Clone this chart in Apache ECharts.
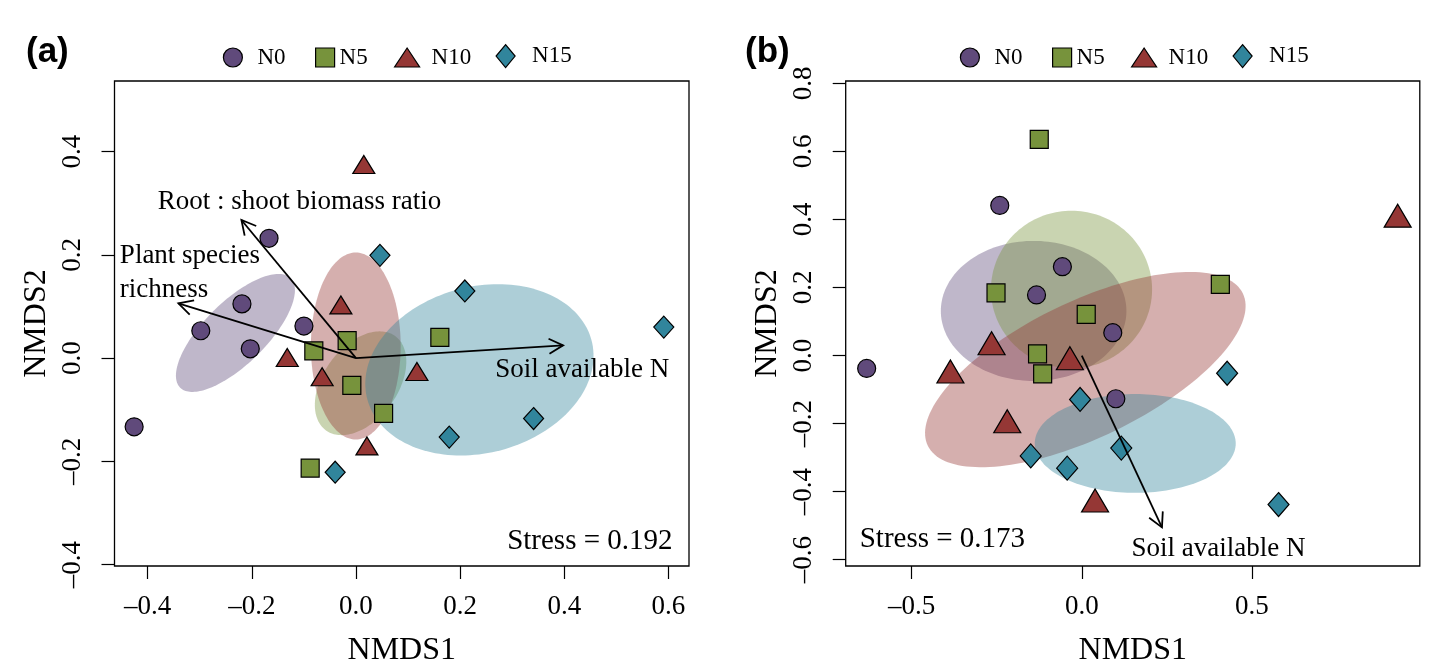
<!DOCTYPE html>
<html><head><meta charset="utf-8">
<script src="https://cdn.jsdelivr.net/npm/echarts@6/dist/echarts.min.js"></script>
<style>html,body{margin:0;padding:0;background:#fff}#c{width:1454px;height:672px}</style>
</head><body><div id="c"></div>
<script>
// ---------- data ----------
const groups = ['N0', 'N5', 'N10', 'N15'];

// Panel (a) site scores [NMDS1, NMDS2]
const ptsA_N0  = [[-0.167, 0.232], [-0.219, 0.105], [-0.298, 0.053], [-0.203, 0.018], [-0.100, 0.062], [-0.426, -0.133]];
const ptsA_N5  = [[-0.017, 0.034], [-0.081, 0.014], [0.161, 0.040], [-0.008, -0.053], [0.053, -0.107], [-0.088, -0.213]];
const ptsA_N10 = [[0.015, 0.375], [-0.029, 0.103], [-0.132, 0.001], [-0.065, -0.036], [0.117, -0.026], [0.021, -0.170]];
const ptsA_N15 = [[0.046, 0.199], [0.209, 0.130], [0.591, 0.060], [0.341, -0.117], [0.179, -0.153], [-0.040, -0.221]];

// Panel (b) site scores
const ptsB_N0  = [[-0.241, 0.441], [-0.057, 0.261], [-0.133, 0.178], [0.091, 0.067], [-0.632, -0.038], [0.100, -0.127]];
const ptsB_N5  = [[-0.125, 0.635], [-0.252, 0.184], [0.407, 0.209], [0.013, 0.121], [-0.130, 0.005], [-0.115, -0.054]];
const ptsB_N10 = [[0.928, 0.411], [-0.265, 0.036], [-0.035, -0.008], [-0.386, -0.047], [-0.219, -0.193], [0.039, -0.426]];
const ptsB_N15 = [[0.427, -0.052], [-0.005, -0.129], [0.116, -0.272], [-0.150, -0.295], [-0.043, -0.331], [0.578, -0.438]];

// Group ellipses [centre x, centre y, semi-axis a, semi-axis b, angle of a (deg)] in data units
const ellA = [[-0.2315, 0.0487, 0.150, 0.060, 45], [0.0088, -0.0487, 0.113, 0.071, 54], [-0.0004, 0.0234, 0.181, 0.0862, 90], [0.237, -0.0227, 0.2227, 0.161, 15]];
const ellB = [[-0.1415, 0.131, 0.2726, 0.2058, 0], [-0.0302, 0.194, 0.2367, 0.2314, 0], [0.0104, -0.0413, 0.514, 0.1996, 25.8], [0.157, -0.2584, 0.2952, 0.1452, 0]];

// Environmental vectors [x0, y0, x1, y1]
const arrowsA = [[0, 0, -0.220, 0.2675], [0, 0, -0.341, 0.106], [0, 0, 0.3977, 0.0247]];
const arrowsB = [[0, 0, 0.2355, -0.505]];

// Text annotations and their anchor (data units)
const labelsA   = ['Root : shoot biomass ratio', 'Plant species\nrichness', 'Soil available N', 'Stress = 0.192'];
const labelPosA = [[-0.1086, 0.302], [-0.4534, 0.1655], [0.4343, -0.0227], [0.449, -0.354]];
const labelsB   = ['Soil available N', 'Stress = 0.173'];
const labelPosB = [[0.4014, -0.567], [-0.4095, -0.5395]];

// Axis ticks
const ticksAx = [-0.4, -0.2, 0.0, 0.2, 0.4, 0.6];
const ticksAy = [-0.4, -0.2, 0.0, 0.2, 0.4];
const ticksBx = [-0.5, 0.0, 0.5];
const ticksBy = [-0.6, -0.4, -0.2, 0.0, 0.2, 0.4, 0.6, 0.8];
const axisTitles = ['NMDS1', 'NMDS2'];
const panelTags = ['(a)', '(b)'];

// ---------- styling ----------
const colors = ['#604A7B', '#77933C', '#953735', '#31859C'];
const fills  = ['rgba(96,74,123,0.4)', 'rgba(119,147,60,0.4)', 'rgba(149,55,53,0.4)', 'rgba(49,133,156,0.4)'];
const symbols = ['circle', 'rect', 'triangle', 'diamond'];
const sizesA = [18, 18, [22, 18], [20, 22]];
const sizesB = [18, 18, [27, 23], [21, 24]];
const SERIF = 'Liberation Serif';

const fmt = v => { const r = Math.round(v * 10) / 10; return (r < 0 ? '\u2013' : '') + Math.abs(r).toFixed(1); };

function xAxisDef(gi, min, max, ticks) {
  return {
    gridIndex: gi, type: 'value', min, max,
    splitLine: { show: false },
    axisLine: { show: false, onZero: false },
    axisTick: { show: true, inside: false, length: 13, customValues: ticks, lineStyle: { color: '#000', width: 1.2 } },
    axisLabel: { customValues: ticks, formatter: fmt, fontSize: 27, fontFamily: SERIF, color: '#000', margin: 27 },
    name: axisTitles[0], nameLocation: 'middle', nameGap: 69,
    nameTextStyle: { fontSize: 32, fontFamily: SERIF, color: '#000' }
  };
}
function yAxisDef(gi, min, max, ticks) {
  return {
    gridIndex: gi, type: 'value', min, max,
    splitLine: { show: false },
    axisLine: { show: false, onZero: false },
    axisTick: { show: true, inside: false, length: 13, customValues: ticks, lineStyle: { color: '#000', width: 1.2 } },
    axisLabel: { customValues: ticks, formatter: fmt, fontSize: 27, fontFamily: SERIF, color: '#000', margin: 28, rotate: 90 },
    name: axisTitles[1], nameLocation: 'middle', nameGap: 62, nameRotate: 90,
    nameTextStyle: { fontSize: 32, fontFamily: SERIF, color: '#000' }
  };
}

function ellipseSeries(params, gi) {
  return {
    type: 'custom', xAxisIndex: gi, yAxisIndex: gi, silent: true, z: 1,
    data: params.map((p, i) => p.concat([i])),
    renderItem: (prm, api) => {
      const cx = api.value(0), cy = api.value(1), a = api.value(2), b = api.value(3);
      const ang = api.value(4) * Math.PI / 180, k = api.value(5);
      const pts = [];
      for (let s = 0; s < 160; s++) {
        const t = 2 * Math.PI * s / 160;
        const ex = a * Math.cos(t), ey = b * Math.sin(t);
        pts.push(api.coord([cx + ex * Math.cos(ang) - ey * Math.sin(ang), cy + ex * Math.sin(ang) + ey * Math.cos(ang)]));
      }
      return { type: 'polygon', shape: { points: pts }, style: { fill: fills[k], stroke: null } };
    }
  };
}

function arrowSeries(arr, gi) {
  return {
    type: 'custom', xAxisIndex: gi, yAxisIndex: gi, silent: true, z: 5,
    data: arr,
    renderItem: (prm, api) => {
      const p0 = api.coord([api.value(0), api.value(1)]);
      const p1 = api.coord([api.value(2), api.value(3)]);
      const dx = p0[0] - p1[0], dy = p0[1] - p1[1];
      const len = Math.hypot(dx, dy), ux = dx / len, uy = dy / len;
      const L = 16, A = 28 * Math.PI / 180;
      const h1 = [p1[0] + L * (ux * Math.cos(A) - uy * Math.sin(A)), p1[1] + L * (ux * Math.sin(A) + uy * Math.cos(A))];
      const h2 = [p1[0] + L * (ux * Math.cos(A) + uy * Math.sin(A)), p1[1] + L * (-ux * Math.sin(A) + uy * Math.cos(A))];
      const st = { stroke: '#000', lineWidth: 1.8, fill: null };
      return { type: 'group', children: [
        { type: 'polyline', shape: { points: [p0, p1] }, style: st },
        { type: 'polyline', shape: { points: [h1, p1, h2] }, style: st }
      ] };
    }
  };
}

function labelSeries(texts, pos, gi) {
  return {
    type: 'custom', xAxisIndex: gi, yAxisIndex: gi, silent: true, z: 6,
    data: pos.map((p, i) => p.concat([i])),
    renderItem: (prm, api) => {
      const i = api.value(2);
      const p = api.coord([api.value(0), api.value(1)]);
      const t = texts[i];
      const isStress = t.indexOf('Stress') === 0;
      const multi = t.indexOf('\n') >= 0;
      return { type: 'text', x: p[0], y: p[1], style: {
        text: t, fill: '#000', fontFamily: SERIF, fontSize: isStress ? 29 : 27,
        align: multi ? 'left' : 'center', verticalAlign: 'middle', lineHeight: 34
      } };
    }
  };
}

function pointSeries(data, k, gi, sizes) {
  return {
    type: 'scatter', name: groups[k], xAxisIndex: gi, yAxisIndex: gi, z: 3,
    data, symbol: symbols[k], symbolSize: sizes[k],
    itemStyle: { color: colors[k], borderColor: '#000', borderWidth: 1.2, opacity: 1 },
    emphasis: { disabled: true }
  };
}

function legendItem(k, left, top, w, h, pad) {
  return {
    data: [{ name: groups[k], icon: symbols[k] }], left, top, itemWidth: w, itemHeight: h,
    padding: 0, selectedMode: false,
    itemStyle: { borderColor: '#000', borderWidth: 1.2 },
    textStyle: { fontSize: 23, fontFamily: SERIF, color: '#000', padding: [0, 0, 0, pad] }
  };
}
const legendSpec = [[222.8, 46, 19, 19, 10], [315, 46, 19, 19, 0], [394, 46, 25, 19, 7], [495.5, 44, 19, 23, 12]];
const legends = [];
[0, 737].forEach(off => legendSpec.forEach((s, k) => legends.push(legendItem(k, s[0] + off, s[1], s[2], s[3], s[4]))));

const ptsA = [ptsA_N0, ptsA_N5, ptsA_N10, ptsA_N15];
const ptsB = [ptsB_N0, ptsB_N5, ptsB_N10, ptsB_N15];

const option = {
  animation: false,
  backgroundColor: '#fff',
  grid: [
    { left: 114.5, top: 81, width: 574.5, height: 487, show: true, borderColor: '#000', borderWidth: 1.3, backgroundColor: 'transparent' },
    { left: 845.7, top: 81, width: 574.1, height: 487, show: true, borderColor: '#000', borderWidth: 1.3, backgroundColor: 'transparent' }
  ],
  xAxis: [xAxisDef(0, -0.4637, 0.6394, ticksAx), xAxisDef(1, -0.6936, 0.993, ticksBx)],
  yAxis: [yAxisDef(0, -0.4026, 0.5366, ticksAy), yAxisDef(1, -0.6185, 0.8067, ticksBy)],
  legend: legends,
  graphic: [
    { type: 'text', left: 26, top: 35, style: { text: panelTags[0], font: 'bold 35px "Liberation Sans"', fill: '#000' } },
    { type: 'text', left: 745, top: 35, style: { text: panelTags[1], font: 'bold 35px "Liberation Sans"', fill: '#000' } }
  ],
  series: [
    ellipseSeries(ellA, 0), ellipseSeries(ellB, 1),
    ...ptsA.map((d, k) => pointSeries(d, k, 0, sizesA)),
    ...ptsB.map((d, k) => pointSeries(d, k, 1, sizesB)),
    arrowSeries(arrowsA, 0), arrowSeries(arrowsB, 1),
    labelSeries(labelsA, labelPosA, 0), labelSeries(labelsB, labelPosB, 1)
  ]
};
const chart = echarts.init(document.getElementById('c'), null, { renderer: 'canvas' });
chart.setOption(option);
</script></body></html>
